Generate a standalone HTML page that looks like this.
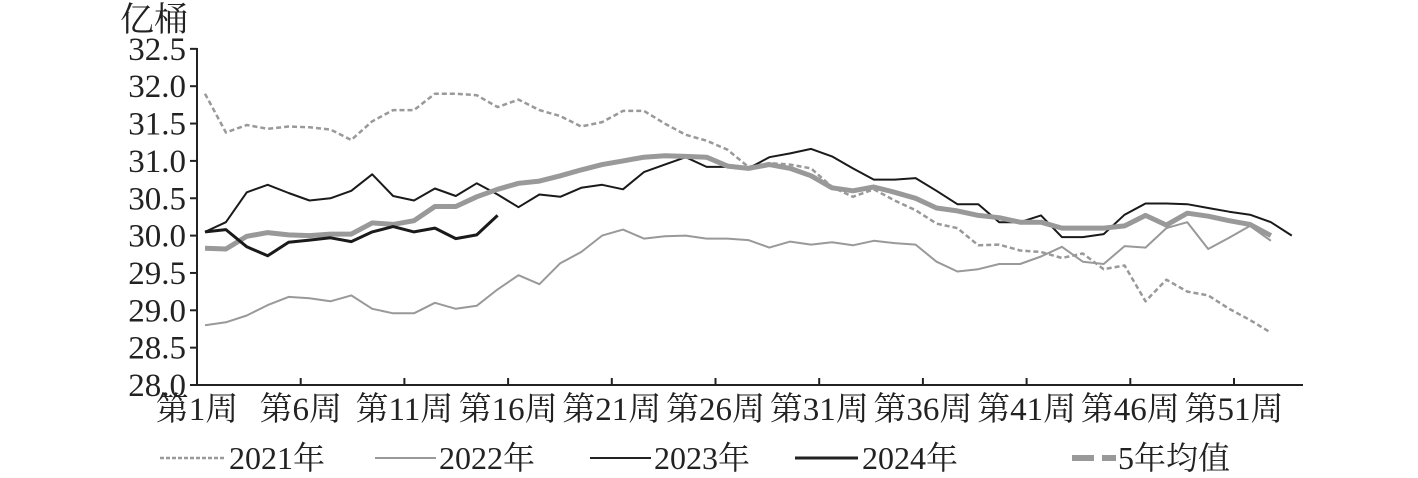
<!DOCTYPE html>
<html><head><meta charset="utf-8"><style>
html,body{margin:0;padding:0;background:#fff;}
svg text{font-family:"Liberation Serif","Noto Serif CJK SC",serif;fill:#222;}
</style></head><body>
<svg id="c" width="1418" height="473" viewBox="0 0 1418 473" xmlns="http://www.w3.org/2000/svg">
<text x="120" y="31" font-size="34">亿桶</text>
<g id="yl" font-size="33" text-anchor="end"></g>
<g id="xl" font-size="33" text-anchor="middle"></g>
<line x1="197" y1="48" x2="197" y2="385" stroke="#222" stroke-width="2"/>
<line x1="196" y1="385" x2="1303" y2="385" stroke="#222" stroke-width="2"/>
<g id="ticks" stroke="#222" stroke-width="2"></g>
<g id="series" fill="none" stroke-linejoin="round"></g>
<g font-size="32">
<line x1="160" y1="458" x2="226" y2="458" stroke="#999" stroke-width="2.5" stroke-dasharray="4,2"/>
<text x="229" y="469">2021年</text>
<line x1="375" y1="458" x2="436" y2="458" stroke="#999" stroke-width="2"/>
<text x="439" y="469">2022年</text>
<line x1="590" y1="458" x2="651" y2="458" stroke="#222" stroke-width="2"/>
<text x="654" y="469">2023年</text>
<line x1="795" y1="458" x2="858" y2="458" stroke="#222" stroke-width="3"/>
<text x="862" y="469">2024年</text>
<line x1="1072" y1="458" x2="1116" y2="458" stroke="#999" stroke-width="6" stroke-dasharray="22,8"/>
<text x="1118" y="469">5年均值</text>
</g>
</svg>
<script>
var NS="http://www.w3.org/2000/svg";
function el(p,t,a,txt){var e=document.createElementNS(NS,t);for(var k in a)e.setAttribute(k,a[k]);if(txt!=null)e.textContent=txt;p.appendChild(e);return e;}
function Y(v){return 385-(v-28)*74.7;}
function X(i){return 205+i*20.9;}
var yl=document.getElementById('yl');
for(var v=28;v<=32.51;v+=0.5){el(yl,'text',{x:186,y:Y(v)+11},v.toFixed(1));el(document.getElementById('ticks'),'line',{x1:190,x2:197,y1:Y(v),y2:Y(v)});}
var xl=document.getElementById('xl'),tk=document.getElementById('ticks');
for(var k=0;k<11;k++){var x=197+k*103.7;if(k>0)el(tk,'line',{x1:x,x2:x,y1:378,y2:385});el(xl,'text',{x:x,y:420},'第'+(1+5*k)+'周');}
var S=document.getElementById('series');
function line(d,stroke,w,dash){var pts=d.map(function(v,i){return X(i).toFixed(1)+','+Y(v).toFixed(1);}).join(' ');var a={points:pts,stroke:stroke,'stroke-width':w};if(dash)a['stroke-dasharray']=dash;el(S,'polyline',a);}
var d21=[31.9,31.38,31.48,31.43,31.46,31.45,31.42,31.28,31.53,31.68,31.68,31.9,31.9,31.88,31.72,31.82,31.68,31.6,31.46,31.52,31.67,31.67,31.5,31.35,31.27,31.15,30.92,30.97,30.95,30.9,30.65,30.52,30.62,30.47,30.34,30.16,30.1,29.87,29.88,29.8,29.78,29.7,29.76,29.55,29.6,29.12,29.41,29.25,29.2,29.02,28.87,28.7];
var d22=[28.8,28.84,28.93,29.07,29.18,29.16,29.12,29.2,29.02,28.96,28.96,29.1,29.02,29.06,29.28,29.47,29.35,29.63,29.78,30.0,30.08,29.96,29.99,30.0,29.96,29.96,29.94,29.84,29.92,29.88,29.91,29.87,29.93,29.9,29.88,29.65,29.52,29.55,29.62,29.62,29.72,29.85,29.65,29.62,29.86,29.84,30.1,30.18,29.82,29.97,30.13,29.93];
var d23=[30.05,30.18,30.58,30.68,30.57,30.47,30.5,30.6,30.82,30.53,30.47,30.63,30.53,30.7,30.55,30.38,30.55,30.52,30.64,30.68,30.62,30.85,30.95,31.05,30.92,30.92,30.9,31.05,31.1,31.16,31.06,30.9,30.75,30.75,30.77,30.6,30.42,30.42,30.18,30.18,30.27,29.98,29.98,30.02,30.28,30.43,30.43,30.42,30.37,30.32,30.28,30.18,30.0];
var d24=[30.05,30.08,29.85,29.73,29.91,29.94,29.97,29.92,30.05,30.12,30.05,30.1,29.96,30.01,30.27];
var d5=[29.83,29.82,29.99,30.04,30.01,30.0,30.02,30.02,30.17,30.15,30.2,30.39,30.39,30.52,30.62,30.7,30.73,30.8,30.88,30.95,31.0,31.05,31.07,31.06,31.05,30.93,30.9,30.95,30.9,30.8,30.64,30.6,30.65,30.58,30.5,30.37,30.33,30.27,30.24,30.18,30.18,30.1,30.1,30.1,30.13,30.27,30.14,30.3,30.26,30.2,30.13,30.15,30.0];
d5.splice(50,1);
line(d22,'#999',2);
line(d21,'#999',2.5,'5,3');
line(d23,'#1a1a1a',2);
line(d5,'#999',5);
line(d24,'#1a1a1a',3);
</script>
</body></html>
